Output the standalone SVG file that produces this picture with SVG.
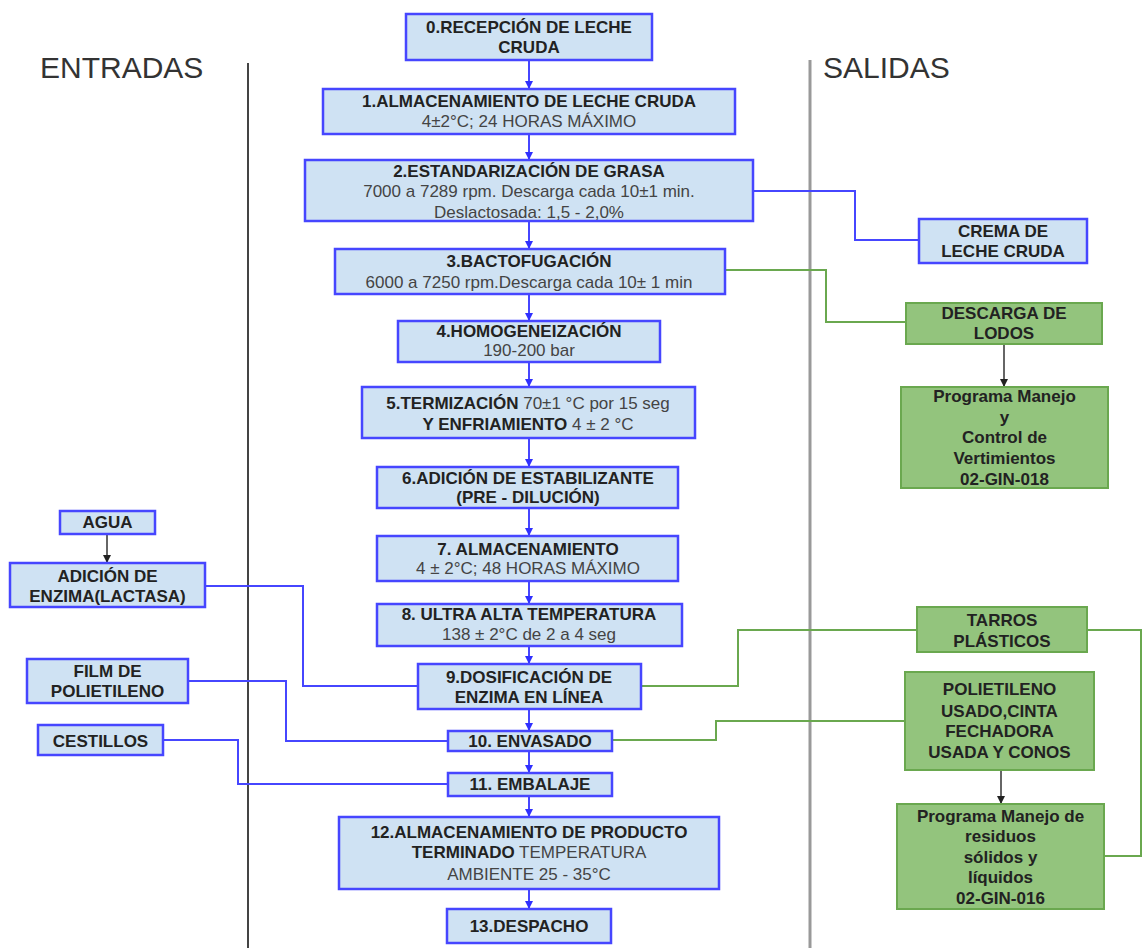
<svg xmlns="http://www.w3.org/2000/svg" width="1142" height="948" viewBox="0 0 1142 948">
<defs>
<style>
.bx{fill:#cfe2f3;stroke:#4646ff;stroke-width:2.5}
.gx{fill:#93c47d;stroke:#6aa84f;stroke-width:2}
.t{font-family:"Liberation Sans",Arial,sans-serif;font-size:17px;text-anchor:middle;fill:#222}
.b{font-weight:bold}
.r{font-weight:normal;fill:#444}
.hd{font-family:"Liberation Sans",Arial,sans-serif;font-size:30px;fill:#333}
.bl{fill:none;stroke:#4646ff;stroke-width:2}
.gl{fill:none;stroke:#6aa84f;stroke-width:2}
.kl{fill:none;stroke:#333;stroke-width:1.5}
</style>
<marker id="ab" markerWidth="8" markerHeight="8" refX="7" refY="4" orient="auto" markerUnits="userSpaceOnUse"><path d="M0,0 L8,4 L0,8 Z" fill="#3030ff"/></marker>
<marker id="ak" markerWidth="8" markerHeight="8" refX="7" refY="4" orient="auto" markerUnits="userSpaceOnUse"><path d="M0,0 L8,4 L0,8 Z" fill="#222"/></marker>
</defs>
<rect width="1142" height="948" fill="#fff"/>
<g id="headers">
<text class="hd" x="40" y="78">ENTRADAS</text>
<text class="hd" x="823" y="78">SALIDAS</text>
<line x1="248" y1="63" x2="248" y2="948" stroke="#444" stroke-width="2"/>
<line x1="810" y1="60" x2="810" y2="948" stroke="#999" stroke-width="3"/>
</g>
<g id="connectors">
<line class="bl" x1="529" y1="60" x2="529" y2="88" marker-end="url(#ab)"/>
<line class="bl" x1="529" y1="134" x2="529" y2="159" marker-end="url(#ab)"/>
<line class="bl" x1="529" y1="221" x2="529" y2="248" marker-end="url(#ab)"/>
<line class="bl" x1="529" y1="294" x2="529" y2="320" marker-end="url(#ab)"/>
<line class="bl" x1="529" y1="362" x2="529" y2="386" marker-end="url(#ab)"/>
<line class="bl" x1="529" y1="438" x2="529" y2="466" marker-end="url(#ab)"/>
<line class="bl" x1="529" y1="508" x2="529" y2="535" marker-end="url(#ab)"/>
<line class="bl" x1="529" y1="581" x2="529" y2="603" marker-end="url(#ab)"/>
<line class="bl" x1="529" y1="646" x2="529" y2="663" marker-end="url(#ab)"/>
<line class="bl" x1="529" y1="709" x2="529" y2="730" marker-end="url(#ab)"/>
<line class="bl" x1="529" y1="751" x2="529" y2="772" marker-end="url(#ab)"/>
<line class="bl" x1="529" y1="796" x2="529" y2="816" marker-end="url(#ab)"/>
<line class="bl" x1="529" y1="889" x2="529" y2="908" marker-end="url(#ab)"/>
<polyline class="bl" points="753,191 855,191 855,240 919,240"/>
<polyline class="gl" points="725,270 826,270 826,322 906,322"/>
<line class="kl" x1="1004" y1="344" x2="1004" y2="386" marker-end="url(#ak)"/>
<line class="kl" x1="107" y1="534" x2="107" y2="562" marker-end="url(#ak)"/>
<polyline class="bl" points="205,586 303,586 303,686 418,686"/>
<polyline class="bl" points="188,681 286,681 286,741 448,741"/>
<polyline class="bl" points="163,740 238,740 238,784 448,784"/>
<polyline class="gl" points="641,686 738,686 738,630 917,630"/>
<polyline class="gl" points="612,740 716,740 716,721 905,721"/>
<polyline class="gl" points="1087,630 1141,630 1141,856 1104,856"/>
<line class="kl" x1="1001" y1="770" x2="1001" y2="803" marker-end="url(#ak)"/>
</g>
<g id="n0"><rect class="bx" x="406" y="14" width="246" height="46"/><text class="t b" x="529" y="33">0.RECEPCIÓN DE LECHE</text><text class="t b" x="529" y="53">CRUDA</text></g>
<g id="n1"><rect class="bx" x="323" y="89" width="412" height="45"/><text class="t b" x="529" y="107">1.ALMACENAMIENTO DE LECHE CRUDA</text><text class="t r" x="529" y="127">4±2°C; 24 HORAS MÁXIMO</text></g>
<g id="n2"><rect class="bx" x="305" y="160" width="448" height="61"/><text class="t b" x="529" y="177">2.ESTANDARIZACIÓN DE GRASA</text><text class="t r" x="529" y="197">7000 a 7289 rpm. Descarga cada 10±1 min.</text><text class="t r" x="529" y="218">Deslactosada: 1,5 - 2,0%</text></g>
<g id="n3"><rect class="bx" x="335" y="249" width="390" height="45"/><text class="t b" x="529" y="267">3.BACTOFUGACIÓN</text><text class="t r" x="529" y="288">6000 a 7250 rpm.Descarga cada 10± 1 min</text></g>
<g id="n4"><rect class="bx" x="398" y="321" width="262" height="41"/><text class="t b" x="529" y="337">4.HOMOGENEIZACIÓN</text><text class="t r" x="529" y="356">190-200 bar</text></g>
<g id="n5"><rect class="bx" x="362" y="387" width="333" height="51"/><text class="t b" x="528" y="409">5.TERMIZACIÓN<tspan class="r"> 70±1 °C por 15 seg</tspan></text><text class="t b" x="528" y="430">Y ENFRIAMIENTO<tspan class="r"> 4 ± 2 °C</tspan></text></g>
<g id="n6"><rect class="bx" x="377" y="467" width="301" height="41"/><text class="t b" x="528" y="484">6.ADICIÓN DE ESTABILIZANTE</text><text class="t b" x="528" y="503">(PRE - DILUCIÓN)</text></g>
<g id="n7"><rect class="bx" x="377" y="536" width="301" height="45"/><text class="t b" x="528" y="555">7. ALMACENAMIENTO</text><text class="t r" x="528" y="574">4 ± 2°C; 48 HORAS MÁXIMO</text></g>
<g id="n8"><rect class="bx" x="377" y="604" width="305" height="42"/><text class="t b" x="529" y="620">8. ULTRA ALTA TEMPERATURA</text><text class="t r" x="529" y="640">138 ± 2°C de 2 a 4 seg</text></g>
<g id="n9"><rect class="bx" x="418" y="664" width="223" height="45"/><text class="t b" x="529" y="683">9.DOSIFICACIÓN DE</text><text class="t b" x="529" y="703">ENZIMA EN LÍNEA</text></g>
<g id="n10"><rect class="bx" x="448" y="731" width="164" height="20"/><text class="t b" x="530" y="747">10. ENVASADO</text></g>
<g id="n11"><rect class="bx" x="448" y="773" width="164" height="23"/><text class="t b" x="530" y="790">11. EMBALAJE</text></g>
<g id="n12"><rect class="bx" x="339" y="817" width="380" height="72"/><text class="t b" x="529" y="838">12.ALMACENAMIENTO DE PRODUCTO</text><text class="t b" x="529" y="858">TERMINADO<tspan class="r"> TEMPERATURA</tspan></text><text class="t r" x="529" y="880">AMBIENTE 25 - 35°C</text></g>
<g id="n13"><rect class="bx" x="447" y="909" width="164" height="34"/><text class="t b" x="529" y="932">13.DESPACHO</text></g>
<g id="agua"><rect class="bx" x="60" y="511" width="95" height="23"/><text class="t b" x="107.5" y="528">AGUA</text></g>
<g id="enzima"><rect class="bx" x="10" y="563" width="195" height="44"/><text class="t b" x="107.5" y="582">ADICIÓN DE</text><text class="t b" x="107.5" y="602">ENZIMA(LACTASA)</text></g>
<g id="film"><rect class="bx" x="27" y="659" width="161" height="44"/><text class="t b" x="107.5" y="677">FILM DE</text><text class="t b" x="107.5" y="697">POLIETILENO</text></g>
<g id="cestillos"><rect class="bx" x="38" y="725" width="125" height="30"/><text class="t b" x="100.5" y="747">CESTILLOS</text></g>
<g id="crema"><rect class="bx" x="919" y="219" width="168" height="44"/><text class="t b" x="1003" y="237">CREMA DE</text><text class="t b" x="1003" y="257">LECHE CRUDA</text></g>
<g id="lodos"><rect class="gx" x="906" y="303" width="196" height="41"/><text class="t b" x="1004" y="319">DESCARGA DE</text><text class="t b" x="1004" y="339">LODOS</text></g>
<g id="vertimientos"><rect class="gx" x="901" y="387" width="207" height="101"/><text class="t b" x="1004.5" y="402">Programa Manejo</text><text class="t b" x="1004.5" y="423">y</text><text class="t b" x="1004.5" y="443">Control de</text><text class="t b" x="1004.5" y="464">Vertimientos</text><text class="t b" x="1004.5" y="485">02-GIN-018</text></g>
<g id="tarros"><rect class="gx" x="917" y="607" width="170" height="45"/><text class="t b" x="1002" y="626">TARROS</text><text class="t b" x="1002" y="647">PLÁSTICOS</text></g>
<g id="polietileno"><rect class="gx" x="905" y="672" width="189" height="98"/><text class="t b" x="999.5" y="695">POLIETILENO</text><text class="t b" x="999.5" y="717">USADO,CINTA</text><text class="t b" x="999.5" y="737">FECHADORA</text><text class="t b" x="999.5" y="758">USADA Y CONOS</text></g>
<g id="residuos"><rect class="gx" x="897" y="804" width="207" height="105"/><text class="t b" x="1000.5" y="822">Programa Manejo de</text><text class="t b" x="1000.5" y="842">residuos</text><text class="t b" x="1000.5" y="863">sólidos y</text><text class="t b" x="1000.5" y="883">líquidos</text><text class="t b" x="1000.5" y="904">02-GIN-016</text></g>
</svg>
